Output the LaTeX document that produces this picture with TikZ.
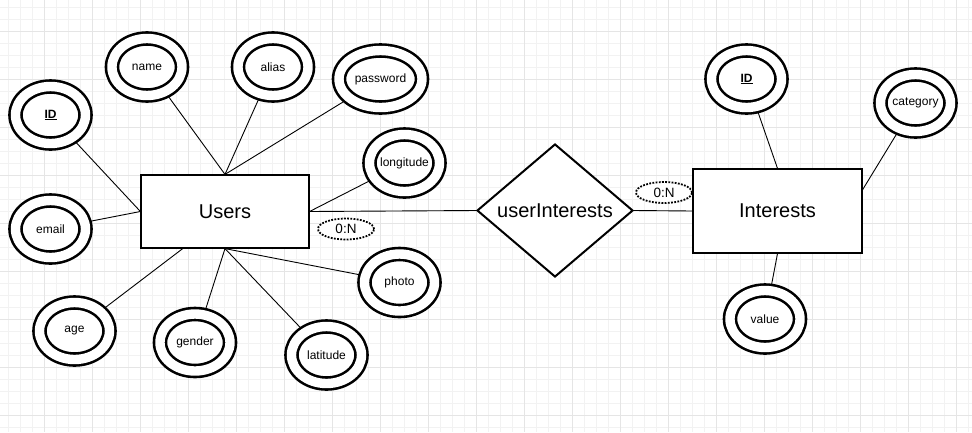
\documentclass[tikz,border=0pt]{standalone}
\usepackage{fontspec}
\setmainfont{Liberation Sans}
\usetikzlibrary{shapes.geometric,backgrounds,calc}

\begin{document}
\begin{tikzpicture}[x=1pt, y=-1pt,
  attr/.style={ellipse, draw, fill=white, line width=2.6pt, double, double distance=9.4pt,
    minimum width=70pt, minimum height=57pt, inner sep=0pt, font=\fontsize{12}{14}\selectfont},
  entity/.style={rectangle, draw, fill=white, line width=1.2pt, inner sep=0pt,
    font=\fontsize{20}{24}\selectfont},
  rel/.style={diamond, draw, fill=white, line width=2pt, inner sep=0pt,
    font=\fontsize{20}{24}\selectfont},
  card/.style={ellipse, draw, fill=white, line width=1.8pt, dash pattern=on 1.8pt off 1.4pt,
    minimum width=56pt, minimum height=21pt, inner sep=0pt, font=\fontsize{13.5}{16}\selectfont},
  edge/.style={line width=0.9pt},
  minorgrid/.style={line width=0.8pt, black!5},
  majorgrid/.style={line width=1pt, black!10}
]

\def\width{972}
\def\height{432}
\path [use as bounding box] (0,0) rectangle (\width,\height);

% ENTITIES
\node [entity, minimum width=168pt, minimum height=73pt] (users) at (225,211.5) {Users};
\node [entity, minimum width=169pt, minimum height=84pt] (interests) at (777.5,211) {Interests};
\node [rel, minimum width=156pt, minimum height=133pt] (userint) at (555,210.5) {userInterests};

% ATTRIBUTES
\node [attr] (uid) at (50.5,115) {\textbf{\underline{ID}}};
\node [attr] (uname) at (147,67) {name};
\node [attr] (ualias) at (273,67) {alias};
\node [attr, minimum width=83pt] (upass) at (380.5,79) {password};
\node [attr] (ulong) at (404.5,163) {longitude};
\node [attr] (uemail) at (50.5,229) {email};
\node [attr] (uage) at (74.5,331) {age};
\node [attr] (ugender) at (195,342.5) {gender};
\node [attr] (ulat) at (326.5,355) {latitude};
\node [attr] (uphoto) at (399.5,282.5) {photo};
\node [attr] (iid) at (746.5,79) {\textbf{\underline{ID}}};
\node [attr] (icat) at (915.5,103) {category};
\node [attr] (ival) at (765,319) {value};

% CARDINALITY
\node [card] (card1) at (346,229) {0:N};
\node [card] (card2) at (664,192.5) {0:N};

\begin{scope}[on background layer]
% GRID
\foreach \gx in {8,20,...,968} \draw [minorgrid] (\gx,0) -- (\gx,\height);
\foreach \gy in {7,19,...,427} \draw [minorgrid] (0,\gy) -- (\width,\gy);
\foreach \gx in {44,92,...,956} \draw [majorgrid] (\gx,0) -- (\gx,\height);
\foreach \gy in {31,79,...,415} \draw [majorgrid] (0,\gy) -- (\width,\gy);

% LINKS
\draw [edge] (uid) -- (users.west);
\draw [edge] (uemail) -- (users.west);
\draw [edge] (uname) -- (users.north);
\draw [edge] (ualias) -- (users.north);
\draw [edge] (upass) -- (users.north);
\draw [edge] (ulong) -- (users.east);
\draw [edge] (uphoto) -- (users.south);
\draw [edge] (uage) -- ($(users.south west)!0.25!(users.south east)$);
\draw [edge] (ugender) -- (users.south);
\draw [edge] (ulat) -- (users.south);
\draw [edge] (users.east) -- (userint.west);
\draw [edge] (userint.east) -- (interests.west);
\draw [edge] (iid) -- (interests.north);
\draw [edge] (icat) -- ($(interests.north east)!0.25!(interests.south east)$);
\draw [edge] (ival) -- (interests.south);
\end{scope}

\end{tikzpicture}
\end{document}
